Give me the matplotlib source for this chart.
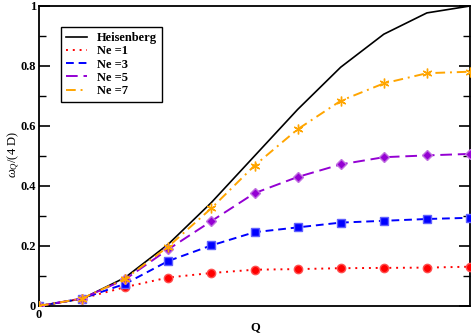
import matplotlib
matplotlib.use("Agg")
import matplotlib.pyplot as plt
from matplotlib.lines import Line2D

plt.rcParams['font.family'] = ['Liberation Serif', 'DejaVu Serif']
plt.rcParams['mathtext.fontset'] = 'custom'
plt.rcParams['mathtext.rm'] = 'Liberation Serif'
plt.rcParams['mathtext.it'] = 'Liberation Serif:italic'
plt.rcParams['mathtext.bf'] = 'Liberation Serif:bold'

q_index = [0, 1, 2, 3, 4, 5, 6, 7, 8, 9, 10]
heisenberg = [0, 0.024, 0.095, 0.206, 0.345, 0.5, 0.655, 0.796, 0.906, 0.977, 1.0]
ne1 = [0, 0.025, 0.063, 0.095, 0.110, 0.121, 0.123, 0.126, 0.127, 0.128, 0.131]
ne3 = [0, 0.025, 0.074, 0.150, 0.202, 0.246, 0.262, 0.278, 0.284, 0.290, 0.294]
ne5 = [0, 0.025, 0.089, 0.189, 0.283, 0.376, 0.430, 0.472, 0.496, 0.502, 0.507]
ne7 = [0, 0.025, 0.091, 0.198, 0.326, 0.468, 0.589, 0.684, 0.742, 0.776, 0.781]
labels = ["Heisenberg", "Ne =1", "Ne =3", "Ne =5", "Ne =7"]
ytick_vals = [0, 0.2, 0.4, 0.6, 0.8, 1.0]
ytick_labels = ['0', '0.2', '0.4', '0.6', '0.8', '1']
yminor_vals = [0.1, 0.3, 0.5, 0.7, 0.9]

fig = plt.figure(figsize=(4.74, 3.36), dpi=100)
ax = fig.add_axes([39/474, 30/336, 431/474, 300/336])

lw = 1.4
ax.plot(q_index, heisenberg, color='black', lw=1.2, zorder=3)
ax.plot(q_index, ne1, color='#ff0000', lw=lw, ls=(0, (1, 2.5)), marker='o', ms=6,
        mec='#ff5050', zorder=4)
ax.plot(q_index, ne3, color='#0000ff', lw=lw, ls=(0, (4, 2.5)), marker='s', ms=5.5,
        mec='#6060ff', zorder=4)
ax.plot(q_index, ne5, color='#9400d3', lw=lw, ls=(0, (6, 3)), marker='D', ms=5,
        mec='#c070e0', zorder=4)
ax.plot(q_index, ne7, color='#ffa500', lw=lw, ls=(0, (5, 2.5, 1, 2.5)), marker=(6, 2, 0),
        ms=7, mew=1.0, zorder=4)

handles = [
    Line2D([], [], color='black', lw=1.2),
    Line2D([], [], color='#ff0000', lw=lw, ls=(0, (1, 2.5))),
    Line2D([], [], color='#0000ff', lw=lw, ls=(0, (4, 2.5))),
    Line2D([], [], color='#9400d3', lw=lw, ls=(0, (6, 3))),
    Line2D([], [], color='#ffa500', lw=lw, ls=(0, (5, 2.5, 1, 2.5))),
]
leg = ax.legend(handles, labels, loc='upper left', bbox_to_anchor=(22/431, 1 - 21/300),
                frameon=True, fancybox=False, edgecolor='black', framealpha=1,
                prop={'weight': 'bold', 'size': 9}, handlelength=1.7, handletextpad=0.8,
                labelspacing=0.1, borderpad=0.4, borderaxespad=0)
leg.get_frame().set_linewidth(1.0)

ax.set_xlim(0, 10)
ax.set_ylim(0, 1)
ax.set_xticks([0])
ax.set_xticklabels(['0'])
ax.set_yticks(ytick_vals)
ax.set_yticklabels(ytick_labels)
ax.set_yticks(yminor_vals, minor=True)
ax.tick_params(axis='y', which='major', direction='in', length=8, width=1.2,
               left=True, right=True, labelsize=9, pad=2)
ax.tick_params(axis='y', which='minor', direction='in', length=5, width=1.0,
               left=True, right=True)
ax.tick_params(axis='x', which='major', direction='in', length=0, labelsize=9, pad=2)
for lab in ax.get_xticklabels() + ax.get_yticklabels():
    lab.set_fontweight('bold')
for s in ax.spines.values():
    s.set_linewidth(1.3)

fig.text(255/474, 1 - 327/336, 'Q', fontsize=9, fontweight='bold',
         ha='center', va='center')
fig.text(14/474, 1 - 155/336, r'$\omega_Q$/(4 D)', fontsize=9, rotation=90,
         ha='center', va='center')

fig.savefig('out.png', dpi=100)
